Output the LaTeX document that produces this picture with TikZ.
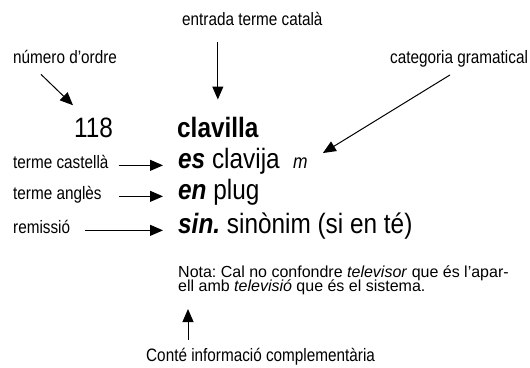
\documentclass[tikz,border=0pt]{standalone}
\usepackage{fontspec}
\setmainfont{Liberation Sans}[FakeStretch=0.85]
\newfontfamily\entryfont{Liberation Sans}[FakeStretch=0.87]
\newfontfamily\notefont{Liberation Sans}
\usetikzlibrary{arrows.meta}
\frenchspacing
\tikzset{
    side note/.style={inner sep=0, anchor=base west, font=\fontsize{18}{22}\selectfont},
    dict entry/.style={inner sep=0, anchor=base west, font=\entryfont\fontsize{28}{32}\selectfont},
    arrow pointer/.style={-{Triangle[length=13pt,width=11pt]}, line width=1pt},
}

\begin{document}
\begin{tikzpicture}[x=1pt,y=-1pt]
\path[fill=white] (0,0) rectangle (530,367);
\useasboundingbox (0,0) rectangle (530,367);
\node[side note] (entrada) at (182,25) {entrada terme català};
\node[side note] (numord) at (13,63) {número d’ordre};
\node[side note] (cat) at (390,63) {categoria gramatical};
\node[dict entry] (num) at (74,137) {118};
\node[dict entry] (clav) at (177,137) {\bfseries clavilla};
\node[side note] (lcast) at (13,168) {terme castellà};
\node[dict entry] (escl) at (178,168) {\textbf{\textit{es}} clavija};
\node[inner sep=0, anchor=base west, font=\entryfont\fontsize{20}{24}\selectfont\itshape] (gram) at (293,168) {m};
\node[side note] (lang) at (13,199) {terme anglès};
\node[dict entry] (enpl) at (178,199) {\textbf{\textit{en}} plug};
\node[side note] (lrem) at (13,233) {remissió};
\node[dict entry] (sinon) at (178,233) {\textbf{\textit{sin.}} sinònim (si en té)};
\node[inner sep=0, anchor=north west, align=left, font=\notefont\fontsize{16}{16}\selectfont] (nota) at (178,266)
    {Nota: Cal no confondre \textit{televisor} que és l’apar-\\[-2.5pt]ell amb \textit{televisió} que és el sistema.};
\node[side note] (conte) at (146,361) {Conté informació complementària};
\coordinate (tailnote) at ([xshift=42pt,yshift=8pt]conte.north west);

\draw[arrow pointer, shorten <=17pt, shorten >=17pt] (entrada.south -| clav.north) -- (clav.north);
\draw[arrow pointer] ([xshift=28pt,yshift=-11pt]numord.south west) -- ([xshift=-1pt,yshift=12pt]num.north west);
\draw[arrow pointer] ([xshift=60pt,yshift=-8pt]cat.south west) -- ([xshift=15pt,yshift=4pt]gram.north east);
\draw[arrow pointer, shorten <=10pt, shorten >=15pt] (lcast.mid east) -- (lcast.mid east -| escl.west);
\draw[arrow pointer, shorten <=17pt, shorten >=15pt] (lang.mid east) -- (lang.mid east -| enpl.west);
\draw[arrow pointer, shorten <=15pt, shorten >=15pt] (lrem.mid east) -- (lrem.mid east -| sinon.west);
\draw[arrow pointer, shorten >=14pt] (tailnote) -- (tailnote |- nota.south);
\end{tikzpicture}
\end{document}
